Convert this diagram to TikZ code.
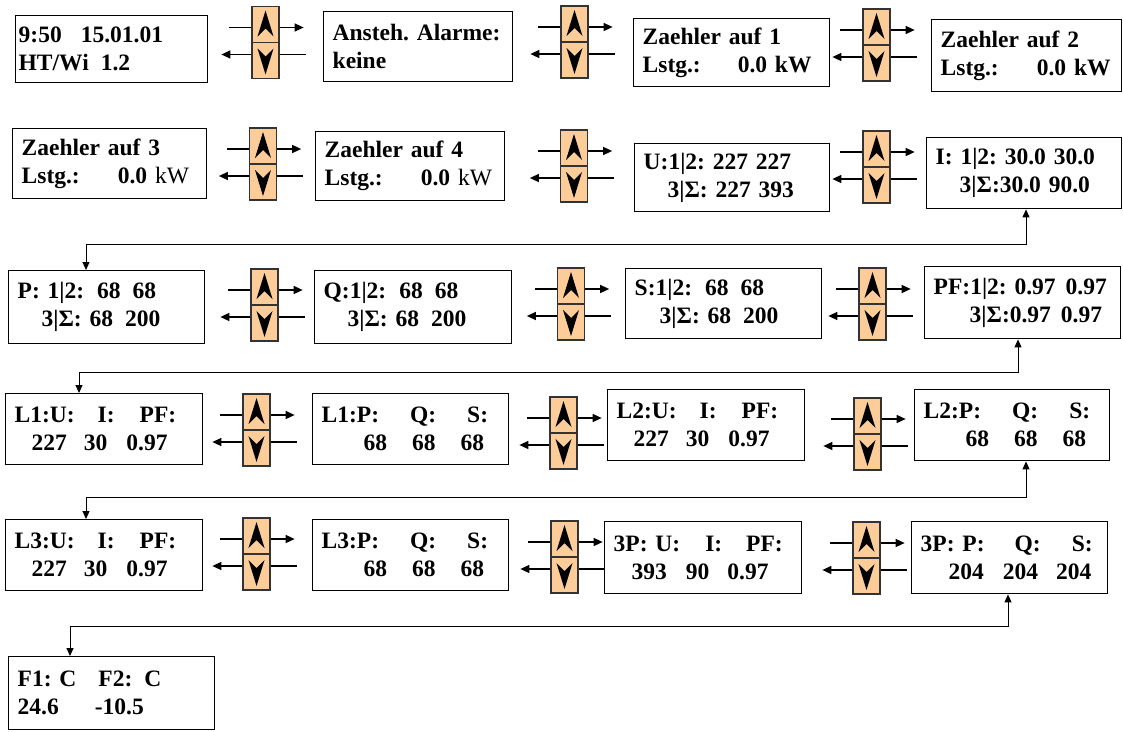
\documentclass[tikz,border=0pt]{standalone}
\usepackage{fontspec}
\setmainfont{Liberation Serif}
\usepackage{tikz}
\usetikzlibrary{arrows.meta}
\definecolor{btnfill}{RGB}{252,204,153}

\begin{document}
\begin{tikzpicture}[x=1pt,y=-1pt,
  disp/.style={draw,line width=1.4pt,anchor=north west,inner xsep=9pt,inner ysep=0pt,align=left,
    font=\bfseries\fontsize{23.5}{28}\selectfont\frenchspacing},
  btn/.style={draw=black!80,fill=btnfill,line width=1.3pt,minimum width=27pt,minimum height=72pt,inner sep=0pt},
  arr/.style={-{Triangle[length=9pt,width=8pt]},line width=1.4pt},
  link/.style={{Triangle[length=8pt,width=7pt]}-{Triangle[length=8pt,width=7pt]},line width=1pt}]
\useasboundingbox (0,0) rectangle (1123,731);
% row 1
\node[disp,inner xsep=3pt,text width=186pt,minimum height=67pt] (A) at (15,15) {9:50\hspace{19pt}15.01.01\\HT/Wi\hspace{12pt}1.2};
\node[disp,text width=171pt,minimum height=70pt] (B) at (323,11) {Ansteh. Alarme:\\keine};
\node[disp,text width=178pt,minimum height=68pt] (C) at (633,18) {Zaehler auf 1\\Lstg.:\hspace{37pt}0.0 kW};
\node[disp,text width=172pt,minimum height=72pt] (D) at (931,19) {Zaehler auf 2\\Lstg.:\hspace{38pt}0.0 kW};
% row 2
\node[disp,text width=176pt,minimum height=70pt] (E) at (12,128) {Zaehler auf 3\\Lstg.:\hspace{38pt}0.0 \textmd{kW}};
\node[disp,text width=171pt,minimum height=69pt] (F) at (315,131) {Zaehler auf 4\\Lstg.:\hspace{38pt}0.0 \textmd{kW}};
\node[disp,text width=177pt,minimum height=68pt] (G) at (634,143) {U:1|2: 227 227\\\hspace*{24pt}3|Σ: 227 393};
\node[disp,text width=177pt,minimum height=71pt] (H) at (926,137) {I: 1|2: 30.0 30.0\\\hspace*{24pt}3|Σ:30.0 90.0};
% row 3
\node[disp,text width=178pt,minimum height=73pt] (P) at (8,270) {P: 1|2:\hspace{13pt}68\hspace{12pt}68\\\hspace*{24pt}3|Σ: 68\hspace{12pt}200};
\node[disp,text width=179pt,minimum height=73pt] (Q) at (314,270) {Q:1|2:\hspace{13pt}68\hspace{12pt}68\\\hspace*{24pt}3|Σ: 68\hspace{12pt}200};
\node[disp,text width=178pt,minimum height=70pt] (S) at (625,268) {S:1|2:\hspace{13pt}68\hspace{12pt}68\\\hspace*{25pt}3|Σ: 68\hspace{12pt}200};
\node[disp,text width=178pt,minimum height=72pt] (PF) at (924,266) {PF:1|2: 0.97\hspace{10pt}0.97\\\hspace*{36pt}3|Σ:0.97\hspace{10pt}0.97};
% row 4
\node[disp,text width=179pt,minimum height=71pt] (LaU) at (5,393) {L1:U:\hspace{23pt}I:\hspace{25pt}PF:\\\hspace*{17pt}227\hspace{17pt}30\hspace{19pt}0.97};
\node[disp,text width=178pt,minimum height=71pt] (LaP) at (312,393) {L1:P:\hspace{31pt}Q:\hspace{31pt}S:\\\hspace*{42pt}68\hspace{25pt}68\hspace{25pt}68};
\node[disp,text width=179pt,minimum height=71pt] (LbU) at (607,389) {L2:U:\hspace{23pt}I:\hspace{25pt}PF:\\\hspace*{17pt}227\hspace{17pt}30\hspace{19pt}0.97};
\node[disp,text width=177pt,minimum height=71pt] (LbP) at (914,389) {L2:P:\hspace{31pt}Q:\hspace{31pt}S:\\\hspace*{42pt}68\hspace{25pt}68\hspace{25pt}68};
% row 5
\node[disp,text width=179pt,minimum height=71pt] (LcU) at (5,519) {L3:U:\hspace{23pt}I:\hspace{25pt}PF:\\\hspace*{17pt}227\hspace{17pt}30\hspace{19pt}0.97};
\node[disp,text width=178pt,minimum height=71pt] (LcP) at (312,519) {L3:P:\hspace{31pt}Q:\hspace{31pt}S:\\\hspace*{42pt}68\hspace{25pt}68\hspace{25pt}68};
\node[disp,text width=179pt,minimum height=72pt] (TU) at (604,521) {3P: U:\hspace{25pt}I:\hspace{24pt}PF:\\\hspace*{18pt}393\hspace{19pt}90\hspace{18pt}0.97};
\node[disp,text width=178pt,minimum height=72pt] (TP) at (911,521) {3P: P:\hspace{30pt}Q:\hspace{31pt}S:\\\hspace*{28pt}204\hspace{19pt}204\hspace{18pt}204};
% row 6
\node[disp,text width=188pt,minimum height=73pt] (T) at (8,656) {F1: C\hspace{22pt}F2:\hspace{12pt}C\\24.6\hspace{36pt}-10.5};
% up/down keys
\foreach \nm/\px/\py in {b1/265.5/42.5,b2/574.5/42,b3/876.5/45,
    b4/263/164,b5/574/166,b6/876.5/167,
    b7/264.5/305,b8/571/304,b9/872.5/304,
    b10/256.5/430,b11/563.5/433,b12/867.5/434,
    b13/256.5/554,b14/564.5/557,b15/866.5/558}{
  \node[btn] (\nm) at (\px,\py) {};
  \draw[line width=1.3pt,black!80] (\nm.west) -- (\nm.east);
  \fill ([yshift=32pt]\nm.center) -- ++(8,26) -- ++(-8,-8) -- ++(-8,8) -- cycle;
  \fill ([yshift=-32pt]\nm.center) -- ++(8,-26) -- ++(-8,8) -- ++(-8,-8) -- cycle;
  \draw[line width=1.4pt] ([yshift=15pt]\nm.west) -- ++(-22,0);
  \draw[arr] ([yshift=15pt]\nm.east) -- ++(24,0);
  \draw[line width=1.4pt] ([yshift=-12pt]\nm.east) -- ++(26,0);
  \draw[arr] ([yshift=-12pt]\nm.west) -- ++(-30,0);
}
% links between rows
\coordinate (ja) at (1026,244); \coordinate (jb) at (86,244);
\coordinate (jc) at (1018,372); \coordinate (jd) at (79,372);
\coordinate (je) at (1026,497); \coordinate (jf) at (86,497);
\coordinate (jg) at (1008,626); \coordinate (jh) at (70,626);
\draw[link] (H.south -| ja) -- (ja) -- (jb) -- (P.north -| jb);
\draw[link] (PF.south -| jc) -- (jc) -- (jd) -- (LaU.north -| jd);
\draw[link] (LbP.south -| je) -- (je) -- (jf) -- (LcU.north -| jf);
\draw[link] (TP.south -| jg) -- (jg) -- (jh) -- (T.north -| jh);
\end{tikzpicture}
\end{document}
